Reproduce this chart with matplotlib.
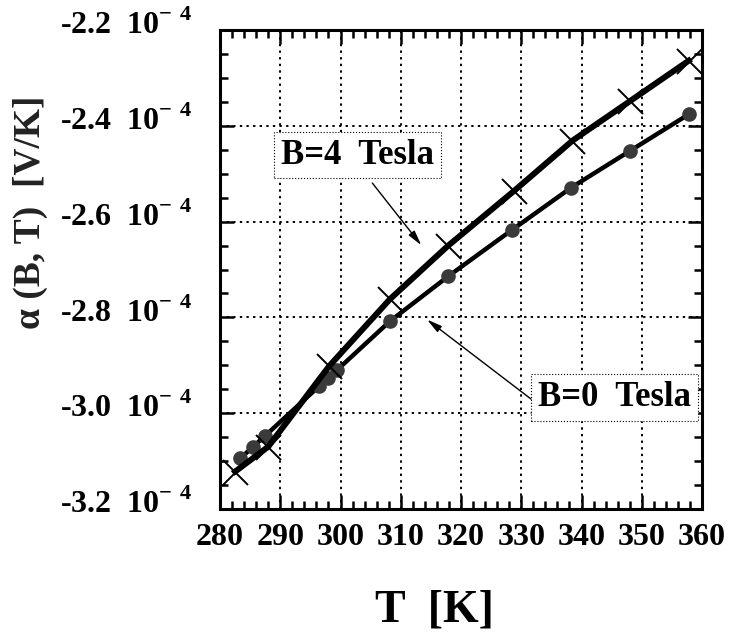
import matplotlib
matplotlib.use("Agg")
import matplotlib.pyplot as plt
import matplotlib.transforms as mtransforms
from matplotlib.ticker import MultipleLocator

plt.rcParams["font.family"] = ["Liberation Serif", "DejaVu Serif"]
plt.rcParams["font.weight"] = "bold"
plt.rcParams["mathtext.fontset"] = "custom"
plt.rcParams["mathtext.rm"] = "Liberation Serif:bold"
plt.rcParams["mathtext.bf"] = "Liberation Serif:bold"

# temperature [K] and Seebeck coefficient [1e-4 V/K]
T_b4 = [282.5, 288.0, 298.1, 308.2, 317.8, 328.8, 338.5, 348.1, 357.8]
alpha_b4 = [-3.122, -3.070, -2.902, -2.762, -2.651, -2.536, -2.431, -2.348, -2.264]

T_b0 = [283.4, 285.5, 287.5, 296.5, 298.0, 299.5, 308.2, 317.9, 328.4, 338.3, 348.1, 357.8]
alpha_b0 = [-3.094, -3.070, -3.047, -2.943, -2.926, -2.909, -2.808, -2.714, -2.618,
            -2.529, -2.452, -2.376]

xticks = [280, 290, 300, 310, 320, 330, 340, 350, 360]
yticks = [-3.2, -3.0, -2.8, -2.6, -2.4, -2.2]
ytick_labels = [f"{v:.1f}  10$^{{-\\ 4}}$" for v in yticks]

fig = plt.figure(figsize=(7.47, 6.37), dpi=100)
ax = fig.add_axes([220 / 747, 1 - 509 / 637, 482 / 747, 479 / 637])

ax.plot(T_b0, alpha_b0, color="black", lw=3.2, marker="o", ms=9.5,
        mfc="#3a3a3a", mec="#3a3a3a", zorder=3)
ax.plot(T_b4, alpha_b4, color="black", lw=4.3, marker="x", ms=18,
        mew=1.4, zorder=4)

ax.set_xlim(280, 360)
ax.set_ylim(-3.2, -2.2)
ax.set_xticks(xticks)
ax.set_yticks(yticks)
ax.set_yticklabels(ytick_labels)
ax.xaxis.set_minor_locator(MultipleLocator(2))
ax.yaxis.set_minor_locator(MultipleLocator(0.05))
ax.tick_params(which="both", direction="in", top=True, right=True, width=1.8)
ax.tick_params(which="major", length=10)
ax.tick_params(which="minor", length=6)
ax.tick_params(axis="x", labelsize=23, pad=10)
ax.tick_params(axis="y", labelsize=23, pad=20)
for sp in ax.spines.values():
    sp.set_linewidth(2.2)
ax.grid(True, which="major", linestyle=(0, (1.2, 2.2)), color="black", lw=1.4)

# y tick labels sit a little above their grid lines
shift = mtransforms.ScaledTranslation(0, 8 / 100, fig.dpi_scale_trans)
for lab in ax.get_yticklabels():
    lab.set_transform(lab.get_transform() + shift)

box = dict(boxstyle="square,pad=0.2", fc="white", ec="black", lw=0.8, ls=":")
ax.text(302.8, -2.461, "B=4  Tesla", ha="center", va="center", fontsize=25,
        bbox=box, zorder=6)
ax.text(345.5, -2.968, "B=0  Tesla", ha="center", va="center", fontsize=25,
        bbox=box, zorder=6)
arrow = dict(arrowstyle="-|>,head_length=0.9,head_width=0.22", color="black", lw=1.0)
ax.annotate("", xy=(313.7, -2.654), xytext=(305.0, -2.515), arrowprops=arrow, zorder=5)
ax.annotate("", xy=(314.0, -2.801), xytext=(332.2, -2.976), arrowprops=arrow, zorder=5)

fig.text(30 / 747, 1 - 212 / 637, "α (B, T)  [V/K]", rotation=90, ha="center",
         va="center", fontsize=27, color="#222222")
fig.text(434 / 747, 1 - 610 / 637, "T  [K]", ha="center", va="center", fontsize=33)

fig.savefig("out.png", dpi=100)
